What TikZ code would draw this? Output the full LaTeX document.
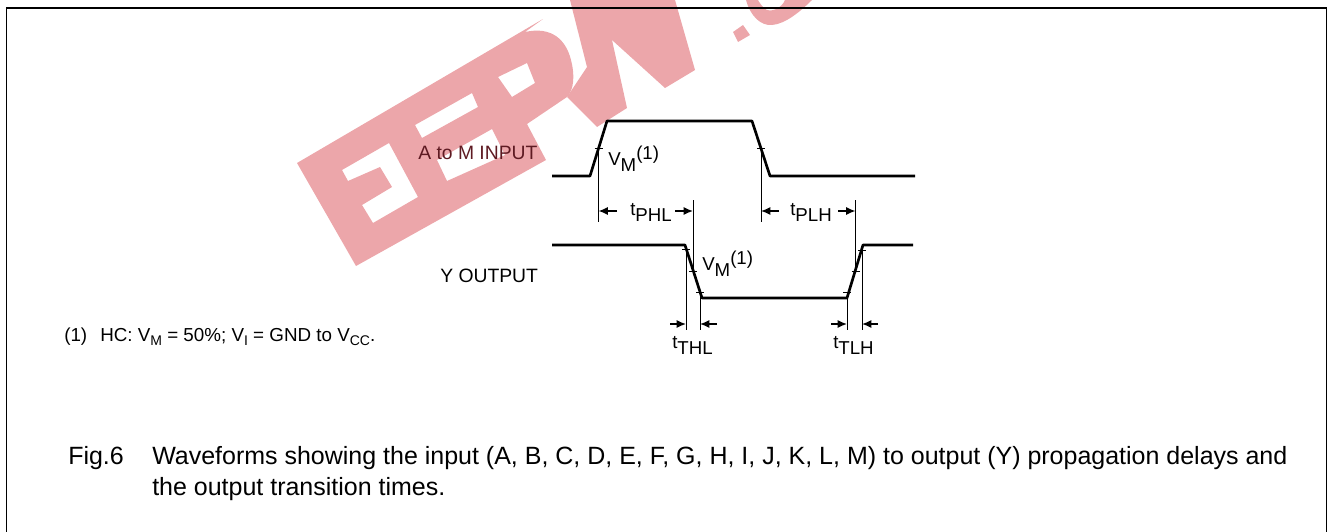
\documentclass[tikz,border=0pt]{standalone}
\usepackage{fontspec}
\setmainfont{Liberation Sans}
\usetikzlibrary{arrows.meta}

\definecolor{markpink}{HTML}{ECA6AA}
\definecolor{markdark}{HTML}{5E1A22}
\newcommand{\tlabel}[1]{t\raisebox{-4.5pt}{#1}}
\newcommand{\vmlabel}{V\raisebox{-5pt}{M}\raisebox{4pt}{(1)}}
\newcommand{\lowsub}[1]{\raisebox{-3pt}{\fontsize{10.5}{12}\selectfont #1}}

\tikzset{
	wave/.style={line width=2pt,line join=round},
	thin line/.style={line width=0.7pt},
	tick mark/.style={line width=0.6pt},
	dim arrow/.style={line width=1.1pt,-{Latex[length=7pt,width=6pt]}},
	sig label/.style={anchor=base west,inner sep=0pt,font=\fontsize{14.5}{16}\selectfont},
	time label/.style={anchor=base west,inner sep=0pt,font=\fontsize{14}{16}\selectfont},
	note label/.style={anchor=base west,inner sep=0pt,font=\fontsize{14.1}{16}\selectfont},
	caption label/.style={anchor=base west,inner sep=0pt,font=\fontsize{18.74}{20}\selectfont},
}

\begin{document}
\begin{tikzpicture}[x=0.75pt,y=-0.75pt]
	\useasboundingbox (0,0) rectangle (1332,532);

	% watermark
	\fill[markpink,even odd rule] (297,163) -- (543,19) -- (525,32)
		.. controls (552,26) and (566,40) .. (571,60)
		.. controls (575,75) and (574,90) .. (567,97)
		-- (527,124) -- (546,160) -- (356,266) -- cycle
		(342,170) -- (389,143) -- (418,197) -- (373,223) -- (362,205)
		-- (392,187) -- (380,167) -- (348,181) -- cycle
		(415,125) -- (472,93) -- (478,107) -- (422,138) -- cycle
		(437,160) -- (492,129) -- (505,155) -- (447,181) -- cycle
		(498,77) -- (527,63) -- (535,83) -- (512,97) -- cycle;
	\fill[markpink] (570,0) -- (587,67) -- (567,97) -- (597,127) -- (627,108)
		-- (612,40) -- (665,88) -- (695,70) -- (675,0) -- cycle;
	\fill[markpink] (733,32) -- (743,25) -- (750,35) -- (738,42) -- cycle;
	\fill[markpink] (746,0) .. controls (750,15) and (760,26) .. (772,25)
		.. controls (785,24) and (800,12) .. (812,0) -- (785,0)
		.. controls (782,8) and (770,14) .. (764,8)
		.. controls (761,5) and (759,2) .. (758,0) -- cycle;

	% frame, open at the bottom
	\coordinate (frameA) at (6.5,532);
	\coordinate (frameB) at (6.5,8);
	\coordinate (frameC) at (1326.5,8);
	\coordinate (frameD) at (1326.5,532);
	\draw[line width=1.1pt] (frameA) -- (frameB) -- (frameC) -- (frameD);

	% input waveform
	\coordinate (inA) at (552,176);
	\coordinate (inB) at (590,176);
	\coordinate (inC) at (607,121);
	\coordinate (inD) at (752,121);
	\coordinate (inE) at (770,176);
	\coordinate (inF) at (915,176);
	\draw[wave] (inA) -- (inB) -- (inC) -- (inD) -- (inE) -- (inF);

	% output waveform
	\coordinate (outA) at (552,245);
	\coordinate (outB) at (685,245);
	\coordinate (outC) at (702,298);
	\coordinate (outD) at (847,298);
	\coordinate (outE) at (863,245);
	\coordinate (outF) at (913,245);
	\draw[wave] (outA) -- (outB) -- (outC) -- (outD) -- (outE) -- (outF);

	% crossing points
	\coordinate (inRise) at (598.5,148);
	\coordinate (inFall) at (761,148);
	\coordinate (outFall) at (693,271);
	\coordinate (outRise) at (855.5,271);
	\coordinate (fallTop) at (686,249);
	\coordinate (fallLow) at (700,292);
	\coordinate (riseLow) at (847,292);
	\coordinate (riseTop) at (862,250);
	\foreach \p in {inRise,inFall,outFall,outRise,fallTop,fallLow,riseLow,riseTop}
		\draw[tick mark] (\p) +(-4,0) -- +(4,0);

	% delay measuring lines
	\coordinate (inRiseEnd) at (598.5,222);
	\coordinate (inFallEnd) at (761,222);
	\coordinate (outFallEnd) at (693,200);
	\coordinate (outRiseEnd) at (855.5,200);
	\draw[thin line] (inRise) -- (inRiseEnd);
	\draw[thin line] (inFall) -- (inFallEnd);
	\draw[thin line] (outFall) -- (outFallEnd);
	\draw[thin line] (outRise) -- (outRiseEnd);

	% transition measuring lines
	\coordinate (fallTopEnd) at (686,330);
	\coordinate (fallLowEnd) at (700,330);
	\coordinate (riseLowEnd) at (847,330);
	\coordinate (riseTopEnd) at (862,330);
	\draw[thin line] (fallTop) -- (fallTopEnd);
	\draw[thin line] (fallLow) -- (fallLowEnd);
	\draw[thin line] (riseLow) -- (riseLowEnd);
	\draw[thin line] (riseTop) -- (riseTopEnd);

	% arrows
	\coordinate (phlA) at (617,211);
	\coordinate (phlAtip) at (598.5,211);
	\coordinate (phlB) at (675,211);
	\coordinate (phlBtip) at (693,211);
	\coordinate (plhA) at (779,211);
	\coordinate (plhAtip) at (761,211);
	\coordinate (plhB) at (838,211);
	\coordinate (plhBtip) at (855.5,211);
	\coordinate (thlA) at (670,324);
	\coordinate (thlAtip) at (686,324);
	\coordinate (thlB) at (717,324);
	\coordinate (thlBtip) at (700,324);
	\coordinate (tlhA) at (831,324);
	\coordinate (tlhAtip) at (847,324);
	\coordinate (tlhB) at (878,324);
	\coordinate (tlhBtip) at (862,324);
	\draw[dim arrow] (phlA) -- (phlAtip);
	\draw[dim arrow] (phlB) -- (phlBtip);
	\draw[dim arrow] (plhA) -- (plhAtip);
	\draw[dim arrow] (plhB) -- (plhBtip);
	\draw[dim arrow] (thlA) -- (thlAtip);
	\draw[dim arrow] (thlB) -- (thlBtip);
	\draw[dim arrow] (tlhA) -- (tlhAtip);
	\draw[dim arrow] (tlhB) -- (tlhBtip);

	% labels
	\node[sig label,text=markdark] (inName) at (418,159) {A to M INPUT};
	\node[sig label] (outName) at (440,282) {Y OUTPUT};
	\node[time label] (vmIn) at (608,165) {\vmlabel};
	\node[time label] (vmOut) at (702,270) {\vmlabel};
	\node[time label] (tphl) at (630,215) {\tlabel{PHL}};
	\node[time label] (tplh) at (790,215) {\tlabel{PLH}};
	\node[time label] (tthl) at (672,348) {\tlabel{THL}};
	\node[time label] (ttlh) at (833,348) {\tlabel{TLH}};

	\node[note label] (noteNum) at (64,341.5) {(1)};
	\node[note label] (noteText) at (100,341.5)
		{HC: V\lowsub{M} = 50\%; V\lowsub{I} = GND to V\lowsub{CC}.};
	\node[caption label] (figNum) at (68,464) {Fig.6};
	\node[caption label] (capOne) at (152,464)
		{Waveforms showing the input (A, B, C, D, E, F, G, H, I, J, K, L, M) to output (Y) propagation delays and};
	\node[caption label] (capTwo) at (152,495) {the output transition times.};
\end{tikzpicture}
\end{document}
